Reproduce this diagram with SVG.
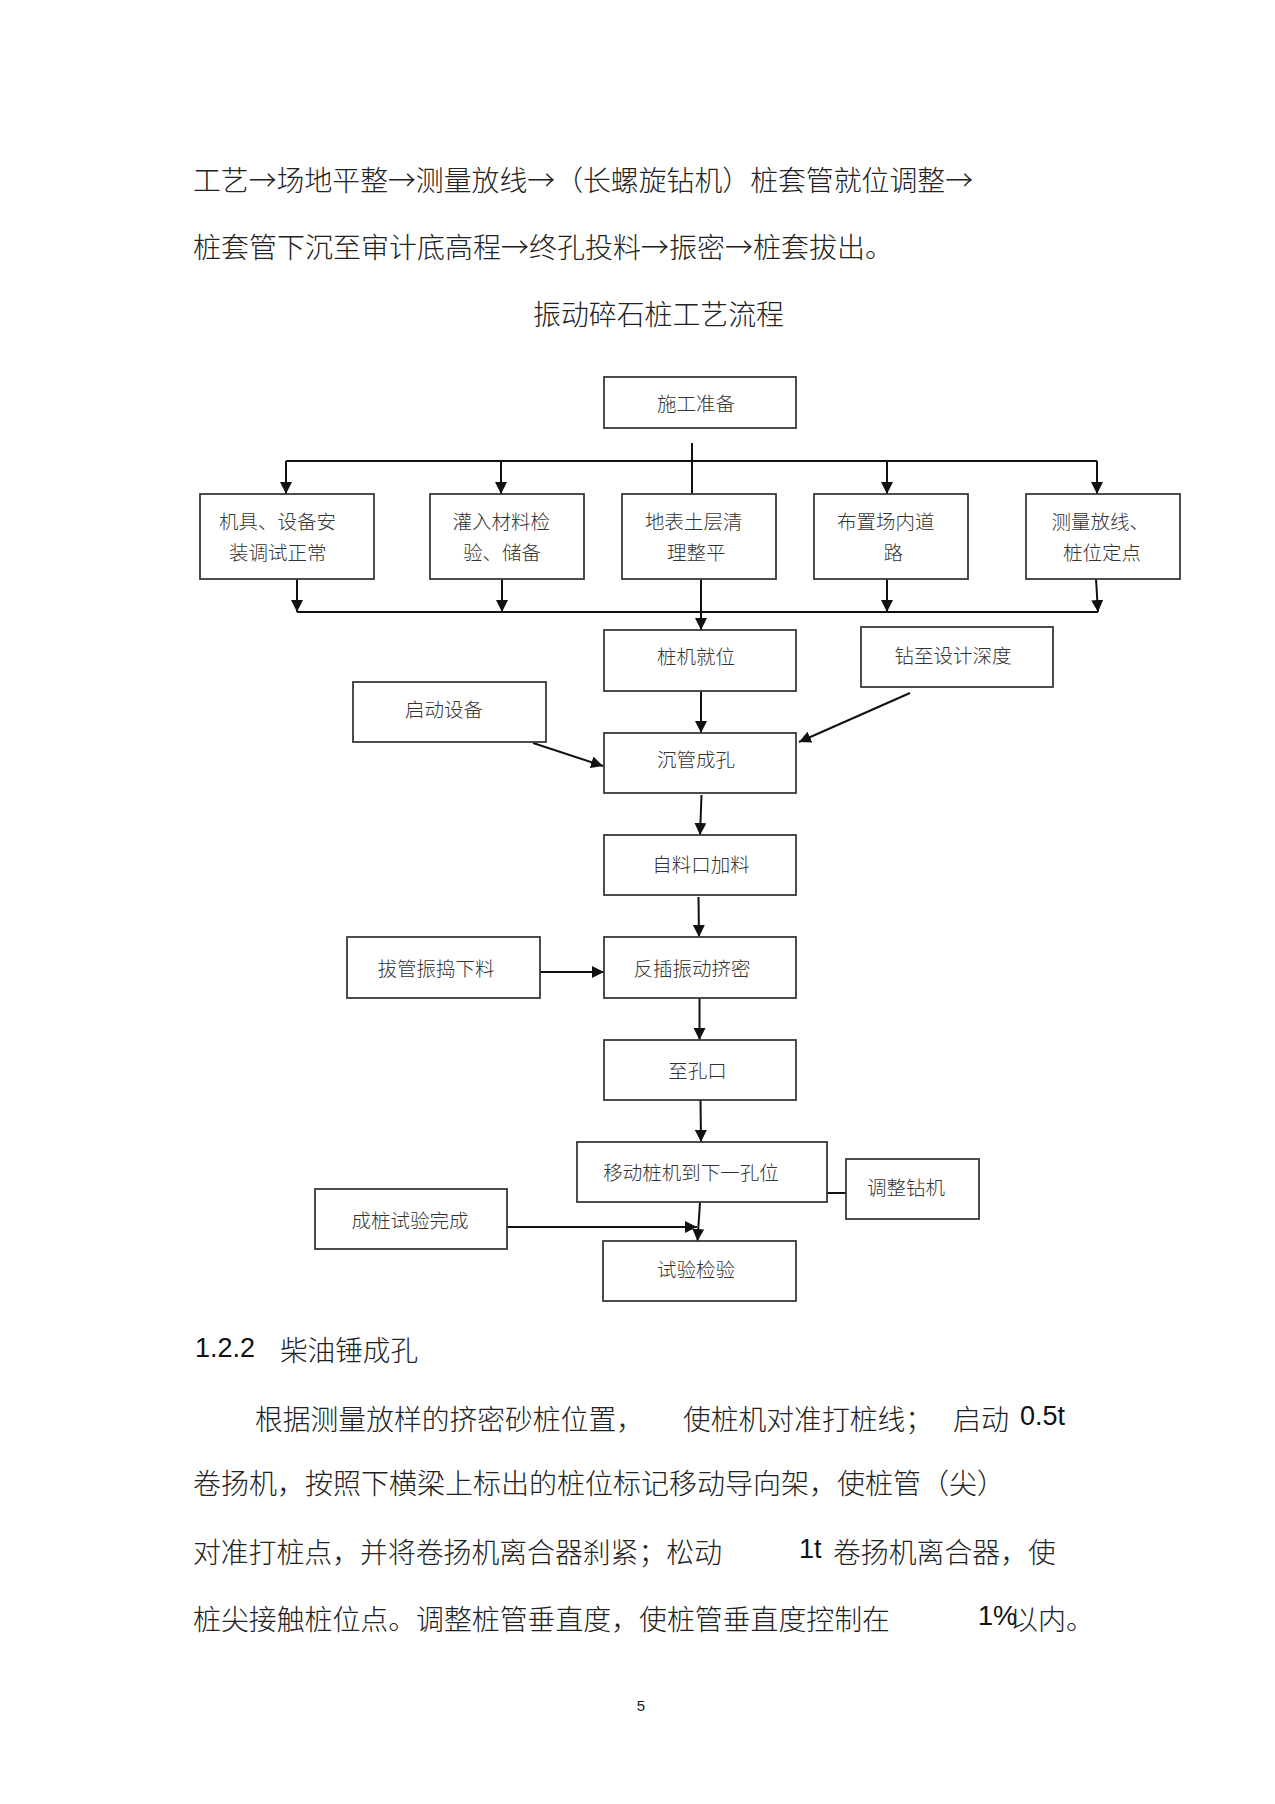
<svg xmlns="http://www.w3.org/2000/svg" width="1275" height="1804" viewBox="0 0 1275 1804">
<style>
.bg{fill:#fff}
.box{fill:#fff;stroke:#3a3a3a;stroke-width:1.8}
.bt{font-family:"Noto Sans CJK SC","Noto Sans",sans-serif;font-size:19.5px;fill:#333;text-anchor:middle;font-weight:300}
.bl{font-family:"Noto Sans CJK SC","Noto Sans",sans-serif;font-size:19.5px;fill:#333;font-weight:300}
.cn{stroke:#111;stroke-width:2;fill:none}
.ar{marker-end:url(#ah)}
.body{font-family:"Noto Sans CJK SC","Noto Sans",sans-serif;font-size:28px;fill:#222;font-weight:300}
.num{font-family:"Liberation Sans",Arial,sans-serif;font-size:27px;fill:#111}
</style>
<defs>
<marker id="ah" markerUnits="userSpaceOnUse" markerWidth="12" markerHeight="12" refX="12" refY="6" orient="auto">
<path d="M0,0 L12,6 L0,12 z" fill="#111"/>
</marker>
</defs>
<rect class="bg" x="0" y="0" width="1275" height="1804"/>

<g id="intro-text">
<text class="body" x="193" y="191" textLength="780" lengthAdjust="spacingAndGlyphs">工艺→场地平整→测量放线→（长螺旋钻机）桩套管就位调整→</text>
<text class="body" x="193" y="258" textLength="700" lengthAdjust="spacingAndGlyphs">桩套管下沉至审计底高程→终孔投料→振密→桩套拔出。</text>
<text class="body" x="533" y="324.5" textLength="251" lengthAdjust="spacingAndGlyphs">振动碎石桩工艺流程</text>
</g>

<g id="connectors">
<line class="cn" x1="692" y1="443" x2="692" y2="494"/>
<line class="cn" x1="286" y1="461" x2="1097" y2="461"/>
<line class="cn ar" x1="286" y1="461" x2="286" y2="494"/>
<line class="cn ar" x1="501" y1="461" x2="501" y2="494"/>
<line class="cn ar" x1="887" y1="461" x2="887" y2="494"/>
<line class="cn ar" x1="1097" y1="461" x2="1097" y2="494"/>
<line class="cn" x1="297" y1="612" x2="1098" y2="612"/>
<line class="cn ar" x1="297" y1="579" x2="297" y2="612"/>
<line class="cn ar" x1="502" y1="579" x2="502" y2="612"/>
<line class="cn ar" x1="887" y1="579" x2="887" y2="612"/>
<line class="cn ar" x1="1096" y1="579" x2="1098" y2="612"/>
<line class="cn ar" x1="701" y1="579" x2="701" y2="630"/>
<line class="cn ar" x1="910" y1="693" x2="799" y2="742"/>
<line class="cn ar" x1="533" y1="743" x2="603" y2="766"/>
<line class="cn ar" x1="701" y1="691" x2="701" y2="733"/>
<line class="cn ar" x1="701.5" y1="795" x2="700" y2="835"/>
<line class="cn ar" x1="698.5" y1="897" x2="699" y2="937"/>
<line class="cn ar" x1="540" y1="972" x2="604" y2="972"/>
<line class="cn ar" x1="699.5" y1="998" x2="699.5" y2="1040"/>
<line class="cn ar" x1="700.5" y1="1100" x2="701" y2="1142"/>
<line class="cn" x1="827" y1="1193" x2="846" y2="1193"/>
<line class="cn ar" x1="700" y1="1202" x2="697.5" y2="1241"/>
<line class="cn ar" x1="507" y1="1227" x2="697" y2="1227"/>
</g>

<g id="n-prep"><rect class="box" x="604" y="377" width="192" height="51"/><text class="bt" x="696" y="411">施工准备</text></g>

<g id="n-machine"><rect class="box" x="200" y="494" width="174" height="85"/>
<text class="bl" x="219" y="528.5">机具、设备安</text><text class="bl" x="229" y="560">装调试正常</text></g>
<g id="n-material"><rect class="box" x="430" y="494" width="154" height="85"/>
<text class="bl" x="452.5" y="528.5">灌入材料检</text><text class="bl" x="463" y="560">验、储备</text></g>
<g id="n-clear"><rect class="box" x="622" y="494" width="154" height="85"/>
<text class="bl" x="645" y="528.5">地表土层清</text><text class="bl" x="667" y="560">理整平</text></g>
<g id="n-road"><rect class="box" x="814" y="494" width="154" height="85"/>
<text class="bl" x="837" y="528.5">布置场内道</text><text class="bl" x="883.5" y="560">路</text></g>
<g id="n-survey"><rect class="box" x="1026" y="494" width="154" height="85"/>
<text class="bl" x="1051.5" y="528.5">测量放线、</text><text class="bl" x="1063" y="560">桩位定点</text></g>

<g id="n-position"><rect class="box" x="604" y="630" width="192" height="61"/><text class="bt" x="696" y="663.5">桩机就位</text></g>
<g id="n-drill"><rect class="box" x="861" y="627" width="192" height="60"/><text class="bt" x="953" y="662.5">钻至设计深度</text></g>
<g id="n-start"><rect class="box" x="353" y="682" width="193" height="60"/><text class="bt" x="444" y="717">启动设备</text></g>
<g id="n-sink"><rect class="box" x="604" y="733" width="192" height="60"/><text class="bt" x="696" y="767">沉管成孔</text></g>
<g id="n-feed"><rect class="box" x="604" y="835" width="192" height="60"/><text class="bt" x="701" y="872">自料口加料</text></g>
<g id="n-pull"><rect class="box" x="347" y="937" width="193" height="61"/><text class="bt" x="436" y="975.5">拔管振捣下料</text></g>
<g id="n-vibrate"><rect class="box" x="604" y="937" width="192" height="61"/><text class="bt" x="692" y="975.5">反插振动挤密</text></g>
<g id="n-top"><rect class="box" x="604" y="1040" width="192" height="60"/><text class="bt" x="697.5" y="1078">至孔口</text></g>
<g id="n-move"><rect class="box" x="577" y="1142" width="250" height="60"/><text class="bt" x="691" y="1180">移动桩机到下一孔位</text></g>
<g id="n-adjust"><rect class="box" x="846" y="1159" width="133" height="60"/><text class="bt" x="906" y="1195">调整钻机</text></g>
<g id="n-done"><rect class="box" x="315" y="1189" width="192" height="60"/><text class="bt" x="410" y="1228">成桩试验完成</text></g>
<g id="n-test"><rect class="box" x="603" y="1241" width="193" height="60"/><text class="bt" x="696" y="1277">试验检验</text></g>

<g id="section-text">
<text class="num" x="195" y="1357">1.2.2</text>
<text class="body" x="280" y="1361" textLength="138" lengthAdjust="spacingAndGlyphs">柴油锤成孔</text>
<text class="body" x="255" y="1429.5" textLength="389" lengthAdjust="spacingAndGlyphs">根据测量放样的挤密砂桩位置，</text>
<text class="body" x="683" y="1429.5" textLength="250" lengthAdjust="spacingAndGlyphs">使桩机对准打桩线；</text>
<text class="body" x="953" y="1429.5" textLength="56" lengthAdjust="spacingAndGlyphs">启动</text>
<text class="num" x="1020" y="1425">0.5t</text>
<text class="body" x="193" y="1493.5" textLength="812" lengthAdjust="spacingAndGlyphs">卷扬机，按照下横梁上标出的桩位标记移动导向架，使桩管（尖）</text>
<text class="body" x="193" y="1563" textLength="529" lengthAdjust="spacingAndGlyphs">对准打桩点，并将卷扬机离合器刹紧；松动</text>
<text class="num" x="799" y="1558">1t</text>
<text class="body" x="833" y="1563" textLength="223" lengthAdjust="spacingAndGlyphs">卷扬机离合器，使</text>
<text class="body" x="193" y="1629.5" textLength="697" lengthAdjust="spacingAndGlyphs">桩尖接触桩位点。调整桩管垂直度，使桩管垂直度控制在</text>
<text class="num" x="978" y="1625">1%</text>
<text class="body" x="1010" y="1629.5">以内。</text>
<text x="641" y="1711" style="font-family:'Liberation Sans',Arial,sans-serif;font-size:15px;fill:#222" text-anchor="middle">5</text>
</g>
</svg>
